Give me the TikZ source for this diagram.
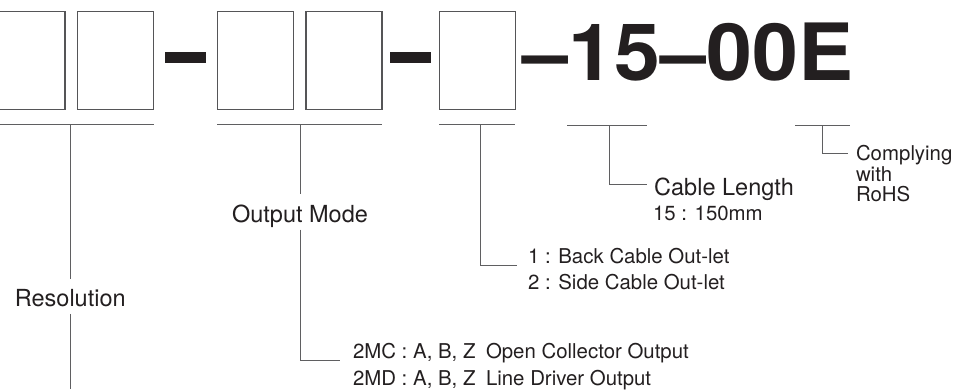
\documentclass[tikz,border=0pt]{standalone}
\usepackage{fontspec}
\setmainfont{TeX Gyre Heros}
\usetikzlibrary{positioning,calc}
\definecolor{inkdark}{RGB}{35,31,32}
\definecolor{boxgray}{RGB}{85,85,87}
\definecolor{rulegray}{RGB}{95,95,97}

\begin{document}
\begin{tikzpicture}[
    x=1pt, y=-1pt,
    digit/.style={rectangle, draw=boxgray, line width=1.1pt, outer sep=0pt,
                  inner sep=0pt, minimum width=76pt, minimum height=98.5pt},
    hyphen/.style={rectangle, fill=inkdark, outer sep=0pt, inner sep=0pt,
                   minimum width=41pt, minimum height=11.6pt},
    leadline/.style={draw=rulegray, line width=1pt},
    heading/.style={inner sep=0pt, text=inkdark, font=\fontsize{23.5}{27}\selectfont},
    cutlabel/.style={heading, text height=21pt, text depth=0pt, inner ysep=7pt},
    detail/.style={inner sep=0pt, text=inkdark, font=\fontsize{20.4}{24}\selectfont}
]
\useasboundingbox (0,0) rectangle (960,389);

% code boxes
\node[digit] (res1) at (27,60.3) {};
\node[digit, right=12.7pt of res1] (res2) {};
\node[digit, right=63.6pt of res2] (mode1) {};
\node[digit, right=12.7pt of mode1] (mode2) {};
\node[digit, right=57.3pt of mode2] (outlet) {};
\node[hyphen, yshift=2.8pt] (sep1) at ($(res2.east)!0.5!(mode1.west)$) {};
\node[hyphen, yshift=2.8pt] (sep2) at ($(mode2.east)!0.5!(outlet.west)$) {};

\node[anchor=base west, inner sep=0pt, text=inkdark,
      font=\fontsize{79}{79}\selectfont\bfseries] (partno) at (522.7,80)
    {\scalebox{1.045}[1]{–15–00E}};

% underlines
\draw[leadline] ([yshift=-15.3pt]res1.south west) -- ([yshift=-15.3pt]res2.south east);
\draw[leadline] ([yshift=-15.3pt]mode1.south west) -- ([yshift=-15.3pt]mode2.south east);
\draw[leadline] ([yshift=-15.3pt]outlet.south west) -- ([yshift=-15.3pt]outlet.south east);
\draw[leadline] (567.3,125) -- (646.7,125);
\draw[leadline] (795,125) -- (850,125);

\coordinate (resTop) at (70.3,125);
\coordinate (resEnd) at (70.3,389);
\coordinate (modeTop) at (300,125);
\coordinate (outTop) at (480,125);
\coordinate (lenTop) at (609.3,125);
\coordinate (rohsTop) at (822,125);

% labels
\node[cutlabel, anchor=base] (res) at (70.3,306.7) {Resolution};
\node[cutlabel, anchor=base] (mode) at (300,222.3) {Output Mode};

\node[detail, inner xsep=12.8pt, anchor=base west] (mc) at (340,358.3)
    {2MC : A, B, Z\hspace{10.5pt}Open Collector Output};
\node[detail, inner xsep=12.8pt, anchor=base west] (md) at ([yshift=-26.7pt]mc.base west)
    {2MD : A, B, Z\hspace{10.5pt}Line Driver Output};

\node[detail, inner xsep=11.25pt, anchor=base west] (out1) at (516.7,263)
    {1 : Back Cable Out-let};
\node[detail, inner xsep=11.25pt, anchor=base west] (out2) at ([yshift=-26.5pt]out1.base west)
    {2 : Side Cable Out-let};

\node[heading, inner xsep=7.3pt, text height=21pt, text depth=0pt,
      anchor=base west] (len) at (646.7,195) {Cable Length};
\node[detail, anchor=base west] (lenval) at (652.9,220) {15 : 150mm};

\node[detail, inner xsep=7.5pt, text height=15pt, text depth=0pt,
      anchor=base west] (rohs1) at (848.3,160.7) {Complying};
\node[detail, inner xsep=7.5pt, anchor=base west] (rohs2) at ([yshift=-20.5pt]rohs1.base west) {with};
\node[detail, inner xsep=7.5pt, anchor=base west] (rohs3) at ([yshift=-20.5pt]rohs2.base west) {RoHS};

% leaders
\draw[leadline] (resTop) -- (res);
\draw[leadline] (res) -- (resEnd);
\draw[leadline] (modeTop) -- (mode);
\draw[leadline] (mode) |- ([yshift=-2.4pt]mc.base west);
\draw[leadline] (outTop) |- ([yshift=-2.3pt]out1.base west);
\draw[leadline] (lenTop) |- (len.west);
\draw[leadline] (rohsTop) |- (rohs1.west);

\end{tikzpicture}
\end{document}
